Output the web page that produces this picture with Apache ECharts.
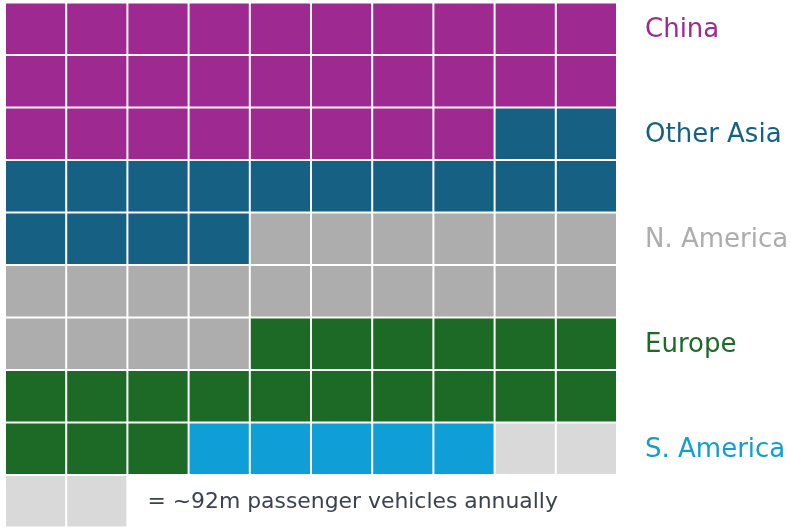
<!DOCTYPE html>
<html><head><meta charset="utf-8">
<script src="https://cdn.jsdelivr.net/npm/echarts@6/dist/echarts.min.js"></script>
<style>html,body{margin:0;padding:0;background:#fff}#c{width:791px;height:529px}</style>
</head><body><div id="c"></div>
<script>
const regions = ['China', 'Other Asia', 'N. America', 'Europe', 'S. America', 'Rest of world'];
const cellCounts = [28, 16, 20, 19, 5, 2];
const regionColors = ['#9E2A91', '#166083', '#ADADAD', '#1C6A25', '#0F9FD6', '#D9D9D9'];
const labelledRegions = [0, 1, 2, 3, 4];
const keyCells = 2;
const keyRegion = 5;
const keyText = '= ~92m passenger vehicles annually';
const columns = 10;
const rows = 10;

// build waffle cells in row-major order
const cells = [];
let k = 0;
cellCounts.forEach((n, ri) => {
  for (let i = 0; i < n; i++, k++) cells.push([k % columns, Math.floor(k / columns), ri]);
});
const keyRow = Math.ceil(k / columns);
for (let i = 0; i < keyCells; i++) cells.push([i, keyRow, keyRegion]);

// labels at every other row, starting with the first
const labelData = labelledRegions.map((ri, i) => [columns, i * 2 + 0.5, ri]);

const chart = echarts.init(document.getElementById('c'), null, {renderer: 'canvas'});
const FONT = '"DejaVu Sans"';
chart.setOption({
  animation: false,
  grid: {left: 5, top: 2.5, width: 612, height: 525},
  xAxis: {type: 'value', min: 0, max: columns, show: false},
  yAxis: {type: 'value', min: 0, max: rows, inverse: true, show: false},
  series: [
    {
      type: 'custom', data: cells, clip: false,
      renderItem(params, api) {
        const c = api.value(0), r = api.value(1);
        const p0 = api.coord([c, r]), p1 = api.coord([c + 1, r + 1]);
        return {
          type: 'rect',
          shape: {x: Math.min(p0[0], p1[0]) + 1, y: Math.min(p0[1], p1[1]) + 1,
                  width: Math.abs(p1[0] - p0[0]) - 2, height: Math.abs(p1[1] - p0[1]) - 2},
          style: {fill: regionColors[api.value(2)]}
        };
      }
    },
    {
      type: 'custom', data: labelData, clip: false,
      renderItem(params, api) {
        const p = api.coord([api.value(0), api.value(1)]);
        const ri = api.value(2);
        return {
          type: 'text', x: p[0] + 28, y: p[1] + 1.5,
          style: {text: regions[ri], fill: regionColors[ri], font: '26px ' + FONT,
                  textAlign: 'left', textVerticalAlign: 'middle'}
        };
      }
    },
    {
      type: 'custom', data: [[keyCells, keyRow + 0.5]], clip: false,
      renderItem(params, api) {
        const p = api.coord([api.value(0), api.value(1)]);
        return {
          type: 'text', x: p[0] + 20, y: p[1] + 1,
          style: {text: keyText, fill: '#3A4250', font: '21.9px ' + FONT,
                  textAlign: 'left', textVerticalAlign: 'middle'}
        };
      }
    }
  ]
});
</script></body></html>
